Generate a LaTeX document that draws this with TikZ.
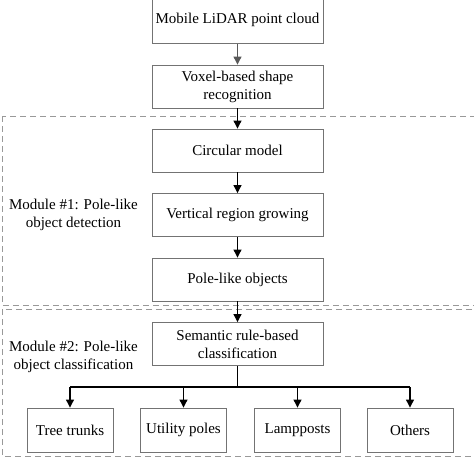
\documentclass[tikz,border=0pt]{standalone}
\usepackage{fontspec}
\setmainfont{Liberation Serif}
\usetikzlibrary{arrows.meta,positioning}
\begin{document}
\begin{tikzpicture}[x=1pt,y=-1pt,
  box/.style={draw=black!55,line width=0.9pt,fill=white,minimum width=171pt,minimum height=43pt,align=center,inner sep=0pt,font=\fontsize{15}{18}\selectfont},
  sbox/.style={box,minimum width=86pt,minimum height=44pt},
  lbl/.style={align=center,inner sep=0pt,font=\fontsize{15}{17.5}\selectfont},
  arr/.style={line width=1.1pt,-{Triangle[length=8pt,width=8pt]}},
  mod/.style={draw=black!40,line width=0.9pt,dash pattern=on 6pt off 4pt}]
\useasboundingbox (0,0) rectangle (474,459);
\begin{scope}
\clip (0,0) rectangle (474,459);
\draw[mod] (2,116) rectangle (480,305);
\draw[mod] (2,309) rectangle (480,456);
\node[box,minimum height=48pt] (b1) at (237.5,19.5) {Mobile LiDAR point cloud};
\end{scope}
\node[box] (b2) at (237.5,86.5) {Voxel-based shape\\recognition};
\node[box] (b3) at (237.5,150.5) {Circular model};
\node[box] (b4) at (237.5,215) {Vertical region growing};
\node[box] (b5) at (237.5,279.5) {Pole-like objects};
\node[box] (b6) at (237.5,344) {Semantic rule-based\\classification};
\node[sbox] (c1) at (70,430) {Tree trunks};
\node[sbox] (c2) at (183.5,430) {Utility poles};
\node[sbox] (c3) at (297.5,430) {Lampposts};
\node[sbox] (c4) at (410,430) {Others};
\node[lbl] (m1) at (73.5,215) {Module \#1: Pole-like\\object detection};
\node[lbl] (m2) at (73.5,357) {Module \#2: Pole-like\\object classification};
\draw[arr,draw=black!65,fill=black!65] (b1) -- (b2);
\draw[arr] (b2) -- (b3);
\draw[arr] (b3) -- (b4);
\draw[arr] (b4) -- (b5);
\draw[arr] (b5) -- (b6);
\coordinate (bus) at (237.5,387);
\draw[line width=1.1pt] (b6.south) -- (bus);
\draw[line width=1.1pt] (c1.north |- bus) -- (c4.north |- bus);
\foreach \c in {c1,c2,c3,c4} \draw[arr] (\c.north |- bus) -- (\c.north);
\end{tikzpicture}
\end{document}
